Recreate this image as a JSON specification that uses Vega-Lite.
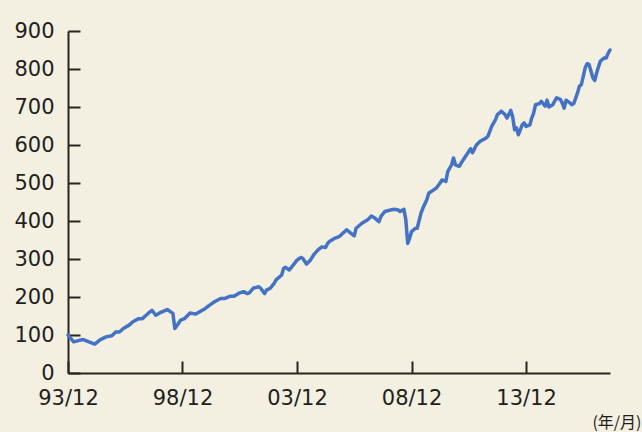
{
  "$schema": "https://vega.github.io/schema/vega-lite/v6.json",
  "width": 542,
  "height": 342,
  "autosize": {"type": "none"},
  "padding": {"left": 68, "top": 31, "right": 32, "bottom": 59},
  "background": "#f3f0e2",
  "config": {
    "view": {"stroke": null},
    "axis": {
      "grid": false,
      "domainColor": "#2b2522",
      "domainWidth": 2,
      "tickColor": "#2b2522",
      "tickWidth": 2,
      "tickSize": -12,
      "labelFont": "DejaVu Sans",
      "labelFontSize": 21,
      "labelColor": "#231e1b",
      "labelPadding": 26
    }
  },
  "title": {
    "text": "(1993年12月末＝100、月次、円ベース)",
    "anchor": "end",
    "baseline": "bottom",
    "offset": 25,
    "dx": -14,
    "font": "Noto Sans CJK JP",
    "fontSize": 16,
    "fontWeight": "normal",
    "color": "#2b2522"
  },
  "data": {
    "values": [
      {"date": "1993-12-01", "value": 100},
      {"date": "1994-03-01", "value": 82},
      {"date": "1994-06-01", "value": 86},
      {"date": "1994-08-01", "value": 88},
      {"date": "1994-11-01", "value": 82},
      {"date": "1995-02-01", "value": 76},
      {"date": "1995-05-01", "value": 88},
      {"date": "1995-08-01", "value": 95},
      {"date": "1995-11-01", "value": 98},
      {"date": "1996-01-01", "value": 108},
      {"date": "1996-03-01", "value": 108},
      {"date": "1996-05-01", "value": 117},
      {"date": "1996-08-01", "value": 126},
      {"date": "1996-10-01", "value": 135},
      {"date": "1997-01-01", "value": 143},
      {"date": "1997-03-01", "value": 143},
      {"date": "1997-05-01", "value": 152},
      {"date": "1997-07-01", "value": 161},
      {"date": "1997-08-01", "value": 165},
      {"date": "1997-10-01", "value": 152},
      {"date": "1997-12-01", "value": 158},
      {"date": "1998-04-01", "value": 167},
      {"date": "1998-07-01", "value": 157},
      {"date": "1998-08-01", "value": 117},
      {"date": "1998-11-01", "value": 139},
      {"date": "1999-01-01", "value": 143},
      {"date": "1999-04-01", "value": 158},
      {"date": "1999-07-01", "value": 155},
      {"date": "1999-09-01", "value": 161},
      {"date": "1999-12-01", "value": 170},
      {"date": "2000-02-01", "value": 178},
      {"date": "2000-05-01", "value": 188},
      {"date": "2000-08-01", "value": 196},
      {"date": "2000-10-01", "value": 196},
      {"date": "2001-01-01", "value": 202},
      {"date": "2001-03-01", "value": 202},
      {"date": "2001-06-01", "value": 211},
      {"date": "2001-08-01", "value": 214},
      {"date": "2001-10-01", "value": 209},
      {"date": "2001-11-01", "value": 211},
      {"date": "2002-01-01", "value": 223},
      {"date": "2002-04-01", "value": 227},
      {"date": "2002-05-01", "value": 223},
      {"date": "2002-07-01", "value": 209},
      {"date": "2002-08-01", "value": 218},
      {"date": "2002-10-01", "value": 223},
      {"date": "2002-12-01", "value": 236},
      {"date": "2003-01-01", "value": 245},
      {"date": "2003-04-01", "value": 258},
      {"date": "2003-05-01", "value": 275},
      {"date": "2003-06-01", "value": 278},
      {"date": "2003-08-01", "value": 271},
      {"date": "2003-10-01", "value": 284},
      {"date": "2003-12-01", "value": 297},
      {"date": "2004-02-01", "value": 304},
      {"date": "2004-03-01", "value": 302},
      {"date": "2004-05-01", "value": 287},
      {"date": "2004-07-01", "value": 297},
      {"date": "2004-09-01", "value": 313},
      {"date": "2004-11-01", "value": 324},
      {"date": "2005-01-01", "value": 332},
      {"date": "2005-03-01", "value": 330},
      {"date": "2005-04-01", "value": 341},
      {"date": "2005-05-01", "value": 346},
      {"date": "2005-08-01", "value": 355},
      {"date": "2005-10-01", "value": 359},
      {"date": "2005-11-01", "value": 363},
      {"date": "2006-02-01", "value": 377},
      {"date": "2006-04-01", "value": 369},
      {"date": "2006-06-01", "value": 361},
      {"date": "2006-07-01", "value": 381},
      {"date": "2006-10-01", "value": 394},
      {"date": "2007-01-01", "value": 403},
      {"date": "2007-03-01", "value": 413},
      {"date": "2007-05-01", "value": 407},
      {"date": "2007-07-01", "value": 398},
      {"date": "2007-08-01", "value": 412},
      {"date": "2007-10-01", "value": 425},
      {"date": "2008-01-01", "value": 429},
      {"date": "2008-03-01", "value": 431},
      {"date": "2008-05-01", "value": 429},
      {"date": "2008-06-01", "value": 425},
      {"date": "2008-08-01", "value": 431},
      {"date": "2008-09-01", "value": 403},
      {"date": "2008-10-01", "value": 341},
      {"date": "2008-11-01", "value": 355},
      {"date": "2008-12-01", "value": 372},
      {"date": "2009-02-01", "value": 381},
      {"date": "2009-03-01", "value": 381},
      {"date": "2009-05-01", "value": 421},
      {"date": "2009-06-01", "value": 434},
      {"date": "2009-08-01", "value": 456},
      {"date": "2009-09-01", "value": 473},
      {"date": "2009-11-01", "value": 480},
      {"date": "2010-01-01", "value": 487},
      {"date": "2010-03-01", "value": 500},
      {"date": "2010-04-01", "value": 508},
      {"date": "2010-06-01", "value": 504},
      {"date": "2010-07-01", "value": 530},
      {"date": "2010-09-01", "value": 548},
      {"date": "2010-10-01", "value": 566},
      {"date": "2010-11-01", "value": 548},
      {"date": "2011-01-01", "value": 544},
      {"date": "2011-03-01", "value": 560},
      {"date": "2011-05-01", "value": 575},
      {"date": "2011-07-01", "value": 590},
      {"date": "2011-08-01", "value": 580},
      {"date": "2011-10-01", "value": 600},
      {"date": "2011-12-01", "value": 610},
      {"date": "2012-03-01", "value": 618},
      {"date": "2012-04-01", "value": 623},
      {"date": "2012-06-01", "value": 649},
      {"date": "2012-08-01", "value": 667},
      {"date": "2012-09-01", "value": 680},
      {"date": "2012-11-01", "value": 689},
      {"date": "2013-01-01", "value": 680},
      {"date": "2013-02-01", "value": 671},
      {"date": "2013-04-01", "value": 691},
      {"date": "2013-05-01", "value": 675},
      {"date": "2013-06-01", "value": 640},
      {"date": "2013-07-01", "value": 645},
      {"date": "2013-08-01", "value": 627},
      {"date": "2013-10-01", "value": 653},
      {"date": "2013-11-01", "value": 658},
      {"date": "2013-12-01", "value": 649},
      {"date": "2014-02-01", "value": 653},
      {"date": "2014-03-01", "value": 671},
      {"date": "2014-04-01", "value": 684},
      {"date": "2014-05-01", "value": 706},
      {"date": "2014-07-01", "value": 709},
      {"date": "2014-08-01", "value": 715},
      {"date": "2014-10-01", "value": 702},
      {"date": "2014-11-01", "value": 718},
      {"date": "2014-12-01", "value": 700},
      {"date": "2015-02-01", "value": 706},
      {"date": "2015-03-01", "value": 715},
      {"date": "2015-04-01", "value": 724},
      {"date": "2015-06-01", "value": 720},
      {"date": "2015-07-01", "value": 711},
      {"date": "2015-08-01", "value": 697},
      {"date": "2015-09-01", "value": 718},
      {"date": "2015-11-01", "value": 711},
      {"date": "2015-12-01", "value": 706},
      {"date": "2016-01-01", "value": 709},
      {"date": "2016-03-01", "value": 737},
      {"date": "2016-04-01", "value": 755},
      {"date": "2016-05-01", "value": 759},
      {"date": "2016-06-01", "value": 781},
      {"date": "2016-07-01", "value": 803},
      {"date": "2016-08-01", "value": 814},
      {"date": "2016-09-01", "value": 812},
      {"date": "2016-11-01", "value": 777},
      {"date": "2016-12-01", "value": 770},
      {"date": "2017-01-01", "value": 790},
      {"date": "2017-02-01", "value": 807},
      {"date": "2017-03-01", "value": 821},
      {"date": "2017-05-01", "value": 829},
      {"date": "2017-06-01", "value": 829},
      {"date": "2017-07-01", "value": 841},
      {"date": "2017-08-01", "value": 850}
    ]
  },
  "mark": {"type": "line", "color": "#4472c4", "strokeWidth": 3.5, "strokeJoin": "round", "strokeCap": "round"},
  "encoding": {
    "x": {
      "field": "date",
      "type": "temporal",
      "scale": {
        "type": "utc",
        "nice": false,
        "domain": [
          {"year": 1993, "month": 12, "date": 1, "utc": true},
          {"year": 2017, "month": 8, "date": 1, "utc": true}
        ]
      },
      "axis": {
        "values": [
          {"year": 1993, "month": 12, "date": 1, "utc": true},
          {"year": 1998, "month": 12, "date": 1, "utc": true},
          {"year": 2003, "month": 12, "date": 1, "utc": true},
          {"year": 2008, "month": 12, "date": 1, "utc": true},
          {"year": 2013, "month": 12, "date": 1, "utc": true}
        ],
        "labelExpr": "utcFormat(datum.value, '%y/%m')",
        "labelFlush": false,
        "title": "(年/月)",
        "titleFont": "Noto Sans CJK JP",
        "titleFontSize": 16,
        "titleFontWeight": "normal",
        "titleColor": "#231e1b",
        "titleAlign": "right",
        "titleAnchor": null,
        "titleBaseline": "alphabetic",
        "titleX": 573,
        "titleY": 54
      }
    },
    "y": {
      "field": "value",
      "type": "quantitative",
      "scale": {"domain": [0, 900], "nice": false},
      "axis": {
        "values": [0, 100, 200, 300, 400, 500, 600, 700, 800, 900],
        "labelFlush": false,
        "title": null
      }
    }
  }
}
